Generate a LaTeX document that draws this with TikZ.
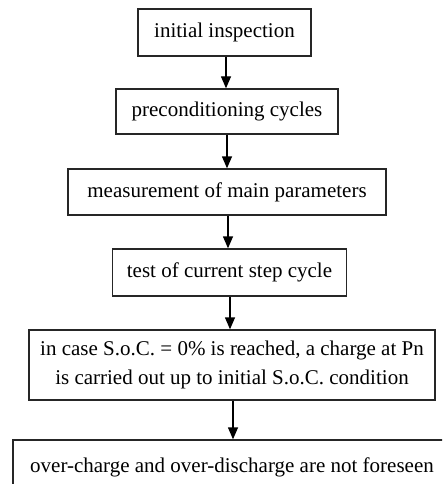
\documentclass[tikz,border=0pt]{standalone}
\usepackage{fontspec}
\setmainfont{Liberation Serif}
\usetikzlibrary{arrows.meta}
\begin{document}
\begin{tikzpicture}[x=1pt,y=-1pt,
  box/.style={draw=black!85,line width=1.4pt,inner sep=0pt,align=center,
    font=\fontsize{21}{29}\selectfont},
  arr/.style={line width=1.4pt,-{Triangle[width=10pt,length=12pt]}}]
\useasboundingbox[fill=white] (0,0) rectangle (442,484);
\clip (0,0) rectangle (442,484);
\node[box,minimum width=173pt,minimum height=47pt] (b1) at (224.5,32.5) {initial inspection};
\node[box,minimum width=222pt,minimum height=45pt] (b2) at (227,111.5) {preconditioning cycles};
\node[box,minimum width=318pt,minimum height=46pt] (b3) at (227,192) {measurement of main parameters};
\node[box,minimum width=234pt,minimum height=47pt] (b4) at (229.5,272.5) {test of current step cycle};
\node[box,minimum width=406pt,minimum height=70pt] (b5) at (232,365) {in case S.o.C. = 0\% is reached, a charge at Pn\\is carried out up to initial S.o.C. condition};
\node[box,minimum width=452pt,minimum height=54pt] (b6) at (239,467) {\hspace*{-14pt}over-charge and over-discharge are not foreseen};
\draw[arr] ([xshift=1.5pt]b1.south) -- ([xshift=1.5pt]b1.south |- b2.north);
\draw[arr] (b2.south) -- (b2.south |- b3.north);
\draw[arr] ([xshift=1pt]b3.south) -- ([xshift=1pt]b3.south |- b4.north);
\draw[arr] ([xshift=0.5pt]b4.south) -- ([xshift=0.5pt]b4.south |- b5.north);
\draw[arr] ([xshift=1pt]b5.south) -- ([xshift=1pt]b5.south |- b6.north);
\end{tikzpicture}
\end{document}
